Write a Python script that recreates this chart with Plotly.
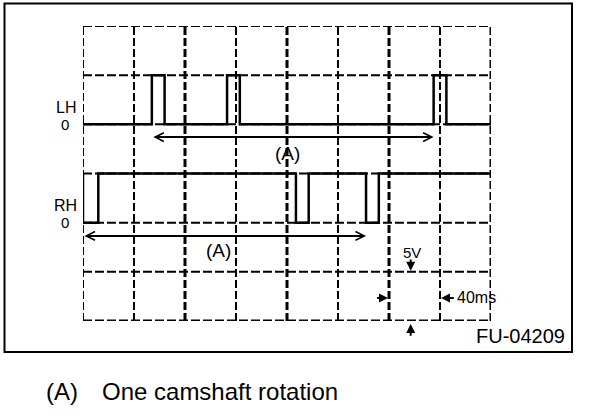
import plotly.graph_objects as go

# ---------------- data (time in ms, vertical position in screen divisions) ----------------
MS_PER_DIV = 40
N_XDIV = 8
N_YDIV = 6
X_MAX = MS_PER_DIV * N_XDIV          # 320 ms across the screen

# LH channel: 0 level at division 4, 5 V pulses (rise, fall) in ms
lh_zero_div = 4
lh_high_div = 5
lh_pulses = [(54, 64), (113, 123), (275, 285)]

# RH channel: signal sits high at division 3, drops to 0 (division 2) during pulses
rh_zero_div = 2
rh_high_div = 3
rh_pulses = [(0, 12), (167, 177), (222, 232)]

channel_labels = ["LH", "RH"]
rotation_label = "(A)"
legend_key = "(A)"
legend_text = "One camshaft rotation"
volt_label = "5V"
time_label = "40ms"
figure_code = "FU-04209"

FONT = "Liberation Sans, Arial, Helvetica, sans-serif"

# ---------------- layout geometry (pixels) ----------------
W, H = 608, 418
PL, PR, PT, PB = 83, 491, 26, 321   # plot (grid) area


def px_x(px):
    return (px - PL) / (PR - PL)


def px_y(py):
    return (PB - py) / (PB - PT)


def step_trace(pulses, base, level):
    xs, ys = [0], [base]
    for a, b in pulses:
        xs += [a, a, b, b]
        ys += [base, level, level, base]
    xs.append(X_MAX)
    ys.append(base)
    return xs, ys


fig = go.Figure()

lx, ly = step_trace(lh_pulses, lh_zero_div, lh_high_div)
rx, ry = step_trace(rh_pulses, rh_high_div, rh_zero_div)

for xs, ys, nm in [(lx, ly, "LH"), (rx, ry, "RH")]:
    fig.add_trace(go.Scatter(x=xs, y=ys, mode="lines", name=nm,
                             line=dict(color="black", width=2.5),
                             hoverinfo="skip", showlegend=False))

shapes = []
# dashed grid
for i in range(N_XDIV + 1):
    xv = i * MS_PER_DIV
    w = 3 if (i % 2 == 0 and i > 0) else 2
    shapes.append(dict(type="line", xref="x", yref="y", x0=xv, x1=xv, y0=0, y1=N_YDIV,
                       line=dict(color="black", width=w, dash="8px,3px"), layer="below"))
for j in range(N_YDIV + 1):
    w = 3 if j == 0 else 2
    shapes.append(dict(type="line", xref="x", yref="y", x0=0, x1=X_MAX, y0=j, y1=j,
                       line=dict(color="black", width=w, dash="9px,3px"), layer="below"))
# outer frame
shapes.append(dict(type="rect", xref="paper", yref="paper",
                   x0=px_x(4.5), x1=px_x(572), y0=px_y(352), y1=px_y(3.5),
                   line=dict(color="black", width=2)))


def ptext(px, py, text, size, xanchor="center"):
    return dict(xref="paper", yref="paper", x=px_x(px), y=px_y(py), text=text,
                showarrow=False, xanchor=xanchor, yanchor="middle",
                font=dict(size=size, family=FONT, color="black"))


ann = []
# channel labels
ann.append(ptext(66, 108, channel_labels[0], 16))
ann.append(ptext(65, 124, "0", 15))
ann.append(ptext(65, 205, channel_labels[1], 16))
ann.append(ptext(65, 222, "0", 15))

# one camshaft rotation arrows
lh_arrow_y = 3.74
rh_arrow_y = 1.73
for x0, x1, yv in [(lh_pulses[0][0], lh_pulses[2][0], lh_arrow_y),
                   (rh_pulses[0][0], rh_pulses[2][0], rh_arrow_y)]:
    ann.append(dict(xref="x", yref="y", axref="x", ayref="y", x=x1, y=yv, ax=x0, ay=yv,
                    text="", showarrow=True, arrowside="end+start",
                    arrowhead=5, startarrowhead=5, arrowsize=0.85, startarrowsize=0.85,
                    arrowwidth=2, arrowcolor="black", standoff=0, startstandoff=0))
ann.append(dict(xref="x", yref="y", x=160, y=3.41, text=rotation_label, showarrow=False,
                xanchor="center", yanchor="middle",
                font=dict(size=19, family=FONT, color="black")))
ann.append(dict(xref="x", yref="y", x=106, y=1.44, text=rotation_label, showarrow=False,
                xanchor="center", yanchor="middle",
                font=dict(size=19, family=FONT, color="black")))

# scale markers: 5 V per division, 40 ms per division
mark_x = 257
small_arrow = dict(text="", showarrow=True, arrowhead=2, arrowsize=0.9, arrowwidth=2,
                   arrowcolor="black", xref="x", yref="y", axref="x", ayref="y")
ann.append(dict(xref="x", yref="y", x=258, y=1.40, text=volt_label, showarrow=False,
                xanchor="center", yanchor="middle",
                font=dict(size=15, family=FONT, color="black")))
ann.append(dict(small_arrow, x=mark_x, y=1, ax=mark_x, ay=1.28, standoff=1))
ann.append(dict(small_arrow, x=mark_x, y=0, ax=mark_x, ay=-0.33, standoff=3))
ann.append(dict(small_arrow, x=6 * MS_PER_DIV, y=0.47, ax=229.5, ay=0.47, standoff=1))
ann.append(dict(small_arrow, x=7 * MS_PER_DIV, y=0.47, ax=292, ay=0.47, standoff=1))
ann.append(dict(xref="x", yref="y", x=291.5, y=0.47, text=time_label, showarrow=False,
                xanchor="left", yanchor="middle",
                font=dict(size=16, family=FONT, color="black")))

# figure code
ann.append(ptext(567, 336, figure_code, 20, xanchor="right"))

# legend text below the frame
ann.append(ptext(44, 391, legend_key, 24, xanchor="left"))
ann.append(ptext(100, 391, legend_text, 24, xanchor="left"))

fig.update_layout(
    width=W, height=H,
    margin=dict(l=PL, r=W - PR, t=PT, b=H - PB, pad=0),
    paper_bgcolor="white", plot_bgcolor="white",
    xaxis=dict(range=[0, X_MAX], visible=False, fixedrange=True),
    yaxis=dict(range=[0, N_YDIV], visible=False, fixedrange=True),
    shapes=shapes, annotations=ann, showlegend=False,
)

fig.write_html("out.html", config={"displayModeBar": False},
               post_script="document.body.style.margin='0px';document.body.style.overflow='hidden';")
